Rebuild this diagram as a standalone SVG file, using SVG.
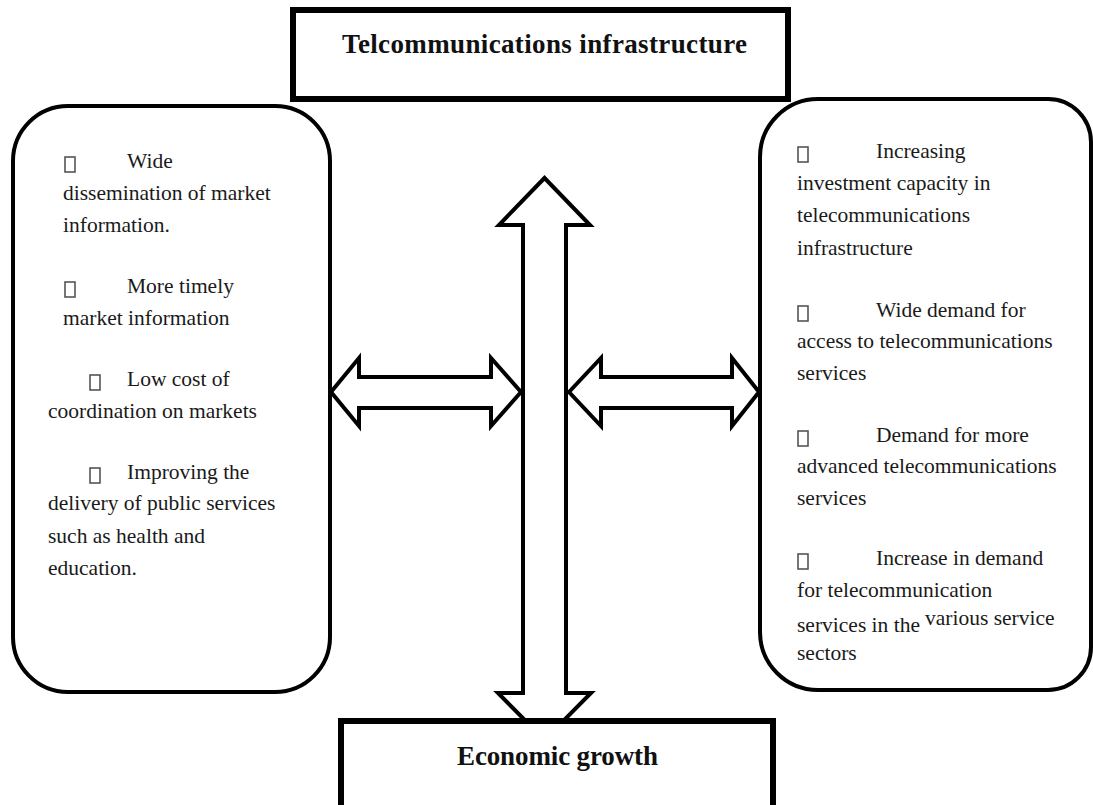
<svg xmlns="http://www.w3.org/2000/svg" width="1093" height="805" viewBox="0 0 1093 805">
<style>
.box{fill:#fff;stroke:#000;stroke-width:6}
.rbox{fill:#fff;stroke:#000;stroke-width:4}
.arrow{fill:#fff;stroke:#000;stroke-width:4;stroke-linejoin:miter}
.title{font-family:"Liberation Serif","Times New Roman",serif;font-weight:bold;font-size:27px;fill:#111}
.body{font-family:"Liberation Serif","Times New Roman",serif;font-size:21.5px;fill:#1a1a1a}
.bul{fill:#fff;stroke:#555;stroke-width:1.6}
</style>
<rect width="1093" height="805" fill="#fff"/>
<g id="connectors">
<polygon class="arrow" points="544.5,178 590,225 566,225 566,693 591,693 544.5,740 498,693 523,693 523,225 499,225"/>
<polygon class="arrow" points="331,392 359,358 359,377 491,377 491,358 521,392 491,426 491,408 359,408 359,426"/>
<polygon class="arrow" points="569,392 601,358 601,377 732,377 732,358 759,392 732,426 732,408 601,408 601,426"/>
</g>
<g id="node-top">
<rect class="box" x="293" y="10" width="495" height="89"/>
<text class="title" x="342" y="53" textLength="405" lengthAdjust="spacing">Telcommunications infrastructure</text>
</g>
<g id="node-bottom">
<rect class="box" x="341" y="721" width="432" height="110"/>
<text class="title" x="457" y="765" textLength="201" lengthAdjust="spacing">Economic growth</text>
</g>
<g id="node-left">
<rect class="rbox" x="13" y="106" width="317" height="586" rx="55" ry="55"/>
<rect class="bul" x="65" y="157" width="10" height="15"/>
<text class="body" x="127" y="168">Wide</text>
<text class="body" x="63" y="200">dissemination of market</text>
<text class="body" x="63" y="232">information.</text>
<rect class="bul" x="65" y="282" width="10" height="15"/>
<text class="body" x="127" y="293">More timely</text>
<text class="body" x="63" y="325">market information</text>
<rect class="bul" x="90" y="375" width="10" height="15"/>
<text class="body" x="127" y="386">Low cost of</text>
<text class="body" x="48" y="418">coordination on markets</text>
<rect class="bul" x="90" y="468" width="10" height="15"/>
<text class="body" x="127" y="479">Improving the</text>
<text class="body" x="48" y="510">delivery of public services</text>
<text class="body" x="48" y="543">such as health and</text>
<text class="body" x="48" y="575">education.</text>
</g>
<g id="node-right">
<path class="rbox" d="M818,99 H1048 A43,43 0 0 1 1091,142 V647 A43,43 0 0 1 1048,690 H818 A58,58 0 0 1 760,632 V157 A58,58 0 0 1 818,99 Z"/>
<rect class="bul" x="798" y="147" width="10" height="15"/>
<text class="body" x="876" y="158">Increasing</text>
<text class="body" x="797" y="190">investment capacity in</text>
<text class="body" x="797" y="222">telecommunications</text>
<text class="body" x="797" y="255">infrastructure</text>
<rect class="bul" x="798" y="306" width="10" height="15"/>
<text class="body" x="876" y="317">Wide demand for</text>
<text class="body" x="797" y="348">access to telecommunications</text>
<text class="body" x="797" y="380">services</text>
<rect class="bul" x="798" y="431" width="10" height="15"/>
<text class="body" x="876" y="442">Demand for more</text>
<text class="body" x="797" y="473">advanced telecommunications</text>
<text class="body" x="797" y="505">services</text>
<rect class="bul" x="798" y="554" width="10" height="15"/>
<text class="body" x="876" y="565">Increase in demand</text>
<text class="body" x="797" y="597">for telecommunication</text>
<text class="body" x="797" y="632">services in the</text>
<text class="body" x="925" y="625">various service</text>
<text class="body" x="797" y="660">sectors</text>
</g>
</svg>
